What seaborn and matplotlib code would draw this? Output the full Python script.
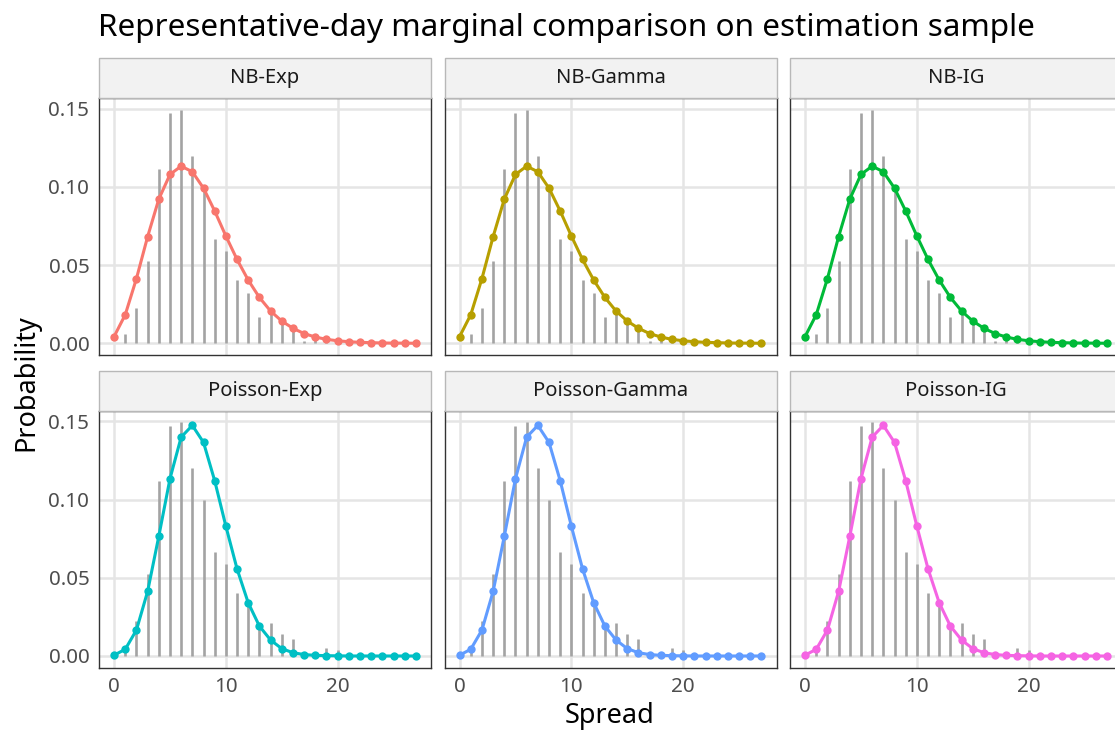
import matplotlib
matplotlib.use("Agg")
import matplotlib.pyplot as plt
import seaborn as sns
import pandas as pd
from matplotlib.patches import Rectangle

# ---------------- data ----------------
spread = list(range(28))
empirical = [0.0, 0.006, 0.0225, 0.0527, 0.1118, 0.1473, 0.1494, 0.120, 0.100,
             0.0666, 0.0591, 0.0406, 0.032, 0.017, 0.021, 0.0143, 0.0109, 0.0015,
             0.0025, 0.0049, 0.0036, 0.0, 0.0, 0.0, 0.0, 0.0, 0.0, 0.0]
nb_fit = [0.0043, 0.0183, 0.0414, 0.0682, 0.0922, 0.1080, 0.1133, 0.1097, 0.0992,
          0.0846, 0.0686, 0.0536, 0.0404, 0.0293, 0.0206, 0.0142, 0.0096, 0.0062,
          0.0040, 0.0025, 0.0016, 0.0010, 0.0006, 0.0004, 0.0002, 0.0001, 0.0001, 0.0]
pois_fit = [0.0005, 0.0043, 0.0166, 0.0413, 0.0766, 0.1134, 0.1400, 0.1475, 0.1366,
            0.1121, 0.0830, 0.0557, 0.0340, 0.0191, 0.0102, 0.0047, 0.0021, 0.0009,
            0.0004, 0.0002, 0.0001, 0.0, 0.0, 0.0, 0.0, 0.0, 0.0, 0.0]
models = ["NB-Exp", "NB-Gamma", "NB-IG", "Poisson-Exp", "Poisson-Gamma", "Poisson-IG"]
model_fits = [nb_fit, nb_fit, nb_fit, pois_fit, pois_fit, pois_fit]
colors = ["#F8766D", "#B79F00", "#00BA38", "#00BFC4", "#619CFF", "#F564E3"]
x_ticks = [0, 10, 20]
y_ticks = [0.00, 0.05, 0.10, 0.15]
y_ticklabels = ["0.00", "0.05", "0.10", "0.15"]

rows = []
for m, fit in zip(models, model_fits):
    for s, p in zip(spread, fit):
        rows.append({"model": m, "spread": s, "prob": p})
df = pd.DataFrame(rows)

# ---------------- figure ----------------
sns.set_style("white")
plt.rcParams["font.family"] = ["Noto Sans", "DejaVu Sans"]

W, H = 1115, 730
fig = plt.figure(figsize=(W / 100, H / 100), dpi=100)
fig.patch.set_facecolor("white")

col_left = [99, 444.5, 790]
row_top = [98, 410.7]
pw, ph = 332, 257
strip_h = 40

xlim = (-1.35, 28.35)
ylim = (-0.0075, 0.1569)

for i, (m, c) in enumerate(zip(models, colors)):
    r, k = divmod(i, 3)
    L = col_left[k]
    T = row_top[r]
    ax = fig.add_axes([L / W, (H - T - ph) / H, pw / W, ph / H])
    ax.set_facecolor("white")
    ax.set_xlim(*xlim)
    ax.set_ylim(*ylim)
    ax.set_xticks(x_ticks)
    ax.set_yticks(y_ticks)
    ax.grid(True, color="#E5E5E5", linewidth=1.8, zorder=0)
    ax.set_axisbelow(True)
    ax.vlines(spread, 0, empirical, color="#A3A3A3", linewidth=1.9, zorder=2)
    sub = df[df["model"] == m]
    sns.lineplot(data=sub, x="spread", y="prob", color=c, linewidth=2.2,
                 marker="o", markersize=6, markeredgewidth=0, ax=ax, zorder=3)
    ax.set_xlabel("")
    ax.set_ylabel("")
    for sp in ax.spines.values():
        sp.set_color("#333333")
        sp.set_linewidth(1.0)
        sp.set_visible(True)
    ax.tick_params(axis="both", colors="#333333", labelcolor="#4D4D4D",
                   labelsize=14.8, length=4, width=1.1, pad=3)
    if k == 0:
        ax.set_yticklabels(y_ticklabels)
    else:
        ax.tick_params(axis="y", left=False, labelleft=False)
    if r == 1:
        ax.set_xticklabels([str(t) for t in x_ticks])
    else:
        ax.tick_params(axis="x", bottom=False, labelbottom=False)

    # strip
    fig.patches.append(Rectangle((L / W, (H - T) / H), pw / W, strip_h / H,
                                 transform=fig.transFigure, facecolor="#F2F2F2",
                                 edgecolor="#B8B8B8", linewidth=1.0, zorder=1))
    fig.text((L + pw / 2) / W, (H - T + strip_h / 2) / H, m, ha="center",
             va="center", fontsize=14.5, color="#1A1A1A")

fig.text(98 / W, (H - 28) / H, "Representative-day marginal comparison on estimation sample",
         ha="left", va="center", fontsize=22.7, color="black")
fig.text(610 / W, (H - 716) / H, "Spread", ha="center", va="center", fontsize=19.5,
         color="black")
fig.text(26 / W, (H - 383) / H, "Probability", ha="center", va="center", fontsize=19.5,
         rotation=90, color="black")

fig.savefig("out.png", dpi=100)
